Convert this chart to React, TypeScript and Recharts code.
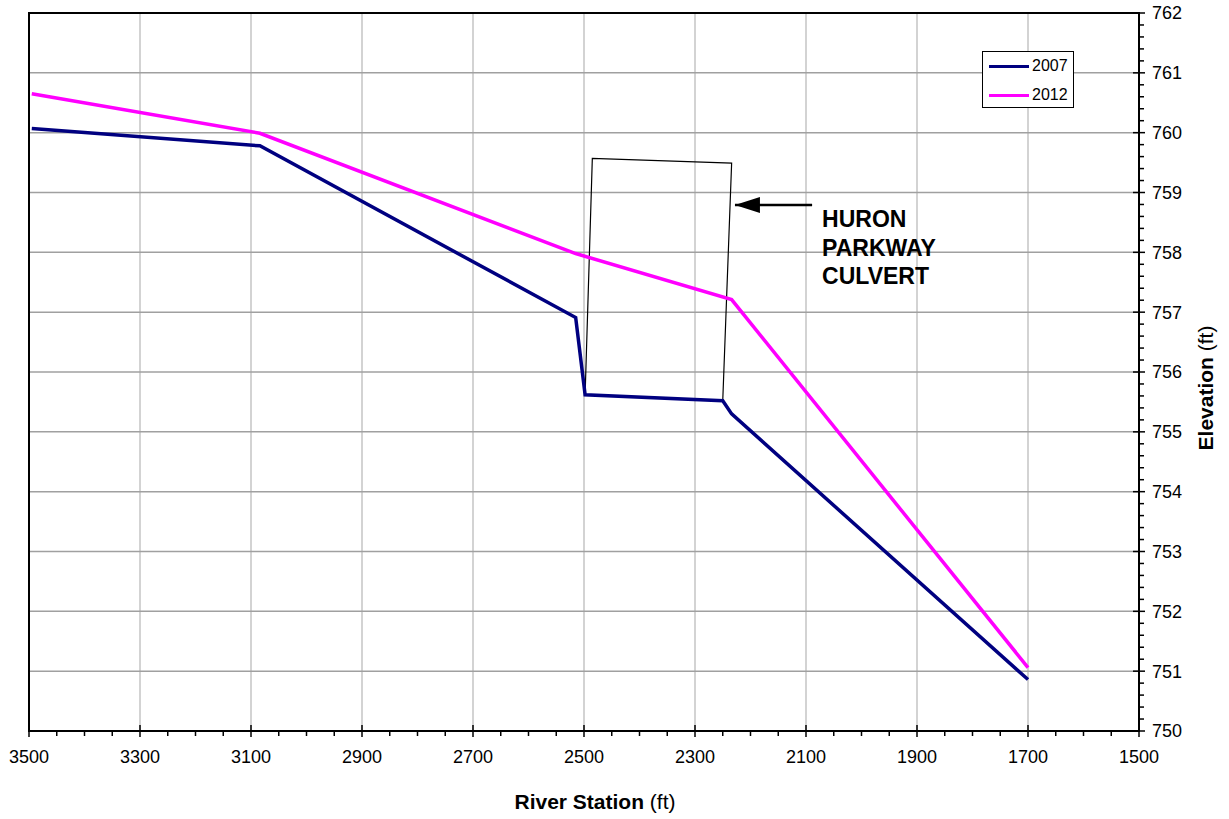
import {
  LineChart,
  Line,
  XAxis,
  YAxis,
  CartesianGrid,
  ReferenceArea,
  ReferenceDot,
} from "recharts";

// river profile
const stations2007 = [3495, 3084, 2515, 2498, 2250, 2234, 1700];
const elevation2007 = [760.07, 759.78, 756.91, 755.62, 755.52, 755.3, 750.86];
const stations2012 = [3495, 3084, 2515, 2234, 1700];
const elevation2012 = [760.65, 759.99, 757.98, 757.21, 751.06];

// culvert outline and pointer arrow
const culvertStations = [2498, 2485, 2234, 2250, 2498];
const culvertElevations = [755.62, 759.57, 759.49, 755.52, 755.62];
const arrowStations = [2228, 2089];
const arrowElevations = [758.79, 758.79];
const labelStation = 2071;
const labelElevation = 758.42;
const labelLines = ["HURON", "PARKWAY", "CULVERT"];

const seriesNames = ["2007", "2012"];
const seriesColors = ["#000080", "#ff00ff"];

const stationTicks = [3500, 3300, 3100, 2900, 2700, 2500, 2300, 2100, 1900, 1700, 1500];
const elevationTicks = [750, 751, 752, 753, 754, 755, 756, 757, 758, 759, 760, 761, 762];
// minor ticks every 50 ft / 0.2 ft, majors drawn with labels
const stationAllTicks = Array.from({ length: 41 }, (_, i) => 1500 + i * 50);
const elevationAllTicks = Array.from({ length: 61 }, (_, i) => Math.round((750 + i * 0.2) * 10) / 10);

const FONT = '"Liberation Sans", Arial, sans-serif';

const toPoints = (s: number[], e: number[]) => s.map((v, i) => ({ s: v, e: e[i] }));

const data2007 = toPoints(stations2007, elevation2007);
const data2012 = toPoints(stations2012, elevation2012);
const culvert = toPoints(culvertStations, culvertElevations);
const arrow = toPoints(arrowStations, arrowElevations);

function XTick({ x, y, payload }: any) {
  const major = stationTicks.includes(payload.value);
  if (!major) {
    return <line x1={x} x2={x} y1={y} y2={y + 5} stroke="#000" strokeWidth={1.5} />;
  }
  return (
    <g>
      <line x1={x} x2={x} y1={y - 6} y2={y + 6} stroke="#000" strokeWidth={1.5} />
      <text x={x} y={y + 32} textAnchor="middle" fontSize={18} fill="#000">
        {payload.value}
      </text>
    </g>
  );
}

function YTick({ x, y, payload }: any) {
  const major = elevationTicks.includes(payload.value);
  if (!major) {
    return <line x1={x} x2={x + 5} y1={y} y2={y} stroke="#000" strokeWidth={1.5} />;
  }
  return (
    <g>
      <line x1={x - 6} x2={x + 6} y1={y} y2={y} stroke="#000" strokeWidth={1.5} />
      <text x={x + 13} y={y} dy="0.36em" textAnchor="start" fontSize={18} fill="#000">
        {payload.value}
      </text>
    </g>
  );
}

function XTitle({ viewBox }: any) {
  const { x, y, width } = viewBox;
  return (
    <text x={x + width / 2 + 11} y={y + 78} textAnchor="middle" fontSize={21} fill="#000">
      <tspan fontWeight="bold">River Station</tspan>
      <tspan> (ft)</tspan>
    </text>
  );
}

function YTitle({ viewBox }: any) {
  const { x, y, height } = viewBox;
  const cx = x + 74;
  const cy = y + height / 2 + 16;
  return (
    <text
      x={cx}
      y={cy}
      textAnchor="middle"
      fontSize={21}
      fill="#000"
      transform={`rotate(-90, ${cx}, ${cy})`}
    >
      <tspan fontWeight="bold">Elevation</tspan>
      <tspan> (ft)</tspan>
    </text>
  );
}

function ArrowHead({ cx, cy, index }: any) {
  if (index !== 0) return <g key={`a${index}`} />;
  return (
    <polygon
      key="head"
      points={`${cx},${cy} ${cx + 25},${cy - 8} ${cx + 25},${cy + 8}`}
      fill="#000"
    />
  );
}

function CulvertLabel({ viewBox }: any) {
  const x = viewBox.x + 1;
  const y = viewBox.y + 1;
  return (
    <text x={x} y={y} fontSize={23} fontWeight="bold" fill="#000">
      {labelLines.map((t, i) => (
        <tspan key={t} x={x} y={y + i * 28.5}>
          {t}
        </tspan>
      ))}
    </text>
  );
}

export default function App() {
  return (
    <div style={{ position: "absolute", left: 0, top: 0, width: 1229, height: 819, background: "#fff", fontFamily: FONT }}>
      <LineChart
        width={1229}
        height={819}
        margin={{ top: 13, right: 0, bottom: 0, left: 29 }}
        style={{ fontFamily: FONT }}
      >
        <CartesianGrid horizontal={false} verticalValues={stationTicks} stroke="#c4c4c4" strokeWidth={1.5} />
        <CartesianGrid vertical={false} horizontalValues={elevationTicks} stroke="#a0a0a0" strokeWidth={1.5} />
        <XAxis
          type="number"
          dataKey="s"
          domain={[1500, 3500]}
          reversed
          allowDataOverflow
          ticks={stationAllTicks}
          interval={0}
          height={88}
          tickSize={0}
          tickMargin={0}
          axisLine={false}
          tickLine={false}
          tick={XTick}
          label={XTitle}
        />
        <YAxis
          orientation="right"
          type="number"
          domain={[750, 762]}
          allowDataOverflow
          ticks={elevationAllTicks}
          interval={0}
          width={90}
          tickSize={0}
          tickMargin={0}
          axisLine={false}
          tickLine={false}
          tick={YTick}
          label={YTitle}
        />
        <ReferenceArea x1={3500} x2={1500} y1={750} y2={762} fill="none" stroke="#000" strokeWidth={2} />
        <Line
          data={culvert}
          dataKey="e"
          type="linear"
          stroke="#000"
          strokeWidth={1.2}
          dot={false}
          isAnimationActive={false}
        />
        <Line
          data={arrow}
          dataKey="e"
          type="linear"
          stroke="#000"
          strokeWidth={2.5}
          dot={ArrowHead}
          isAnimationActive={false}
        />
        <Line
          data={data2012}
          dataKey="e"
          name={seriesNames[1]}
          type="linear"
          stroke={seriesColors[1]}
          strokeWidth={3.5}
          dot={false}
          isAnimationActive={false}
        />
        <Line
          data={data2007}
          dataKey="e"
          name={seriesNames[0]}
          type="linear"
          stroke={seriesColors[0]}
          strokeWidth={3.5}
          dot={false}
          isAnimationActive={false}
        />
        <ReferenceDot
          x={labelStation}
          y={labelElevation}
          r={1}
          fill="none"
          stroke="none"
          label={CulvertLabel}
        />
      </LineChart>
      <div
        style={{
          position: "absolute",
          left: 982,
          top: 51,
          width: 92,
          height: 57,
          border: "1px solid #000",
          background: "#fff",
          boxSizing: "border-box",
          fontSize: 16,
          color: "#000",
        }}
      >
        {seriesNames.map((name, i) => (
          <div key={name} style={{ position: "absolute", left: 6, top: 4 + i * 29, height: 20, display: "flex", alignItems: "center" }}>
            <div style={{ width: 40, height: 3, background: seriesColors[i] }} />
            <span style={{ marginLeft: 3 }}>{name}</span>
          </div>
        ))}
      </div>
    </div>
  );
}
